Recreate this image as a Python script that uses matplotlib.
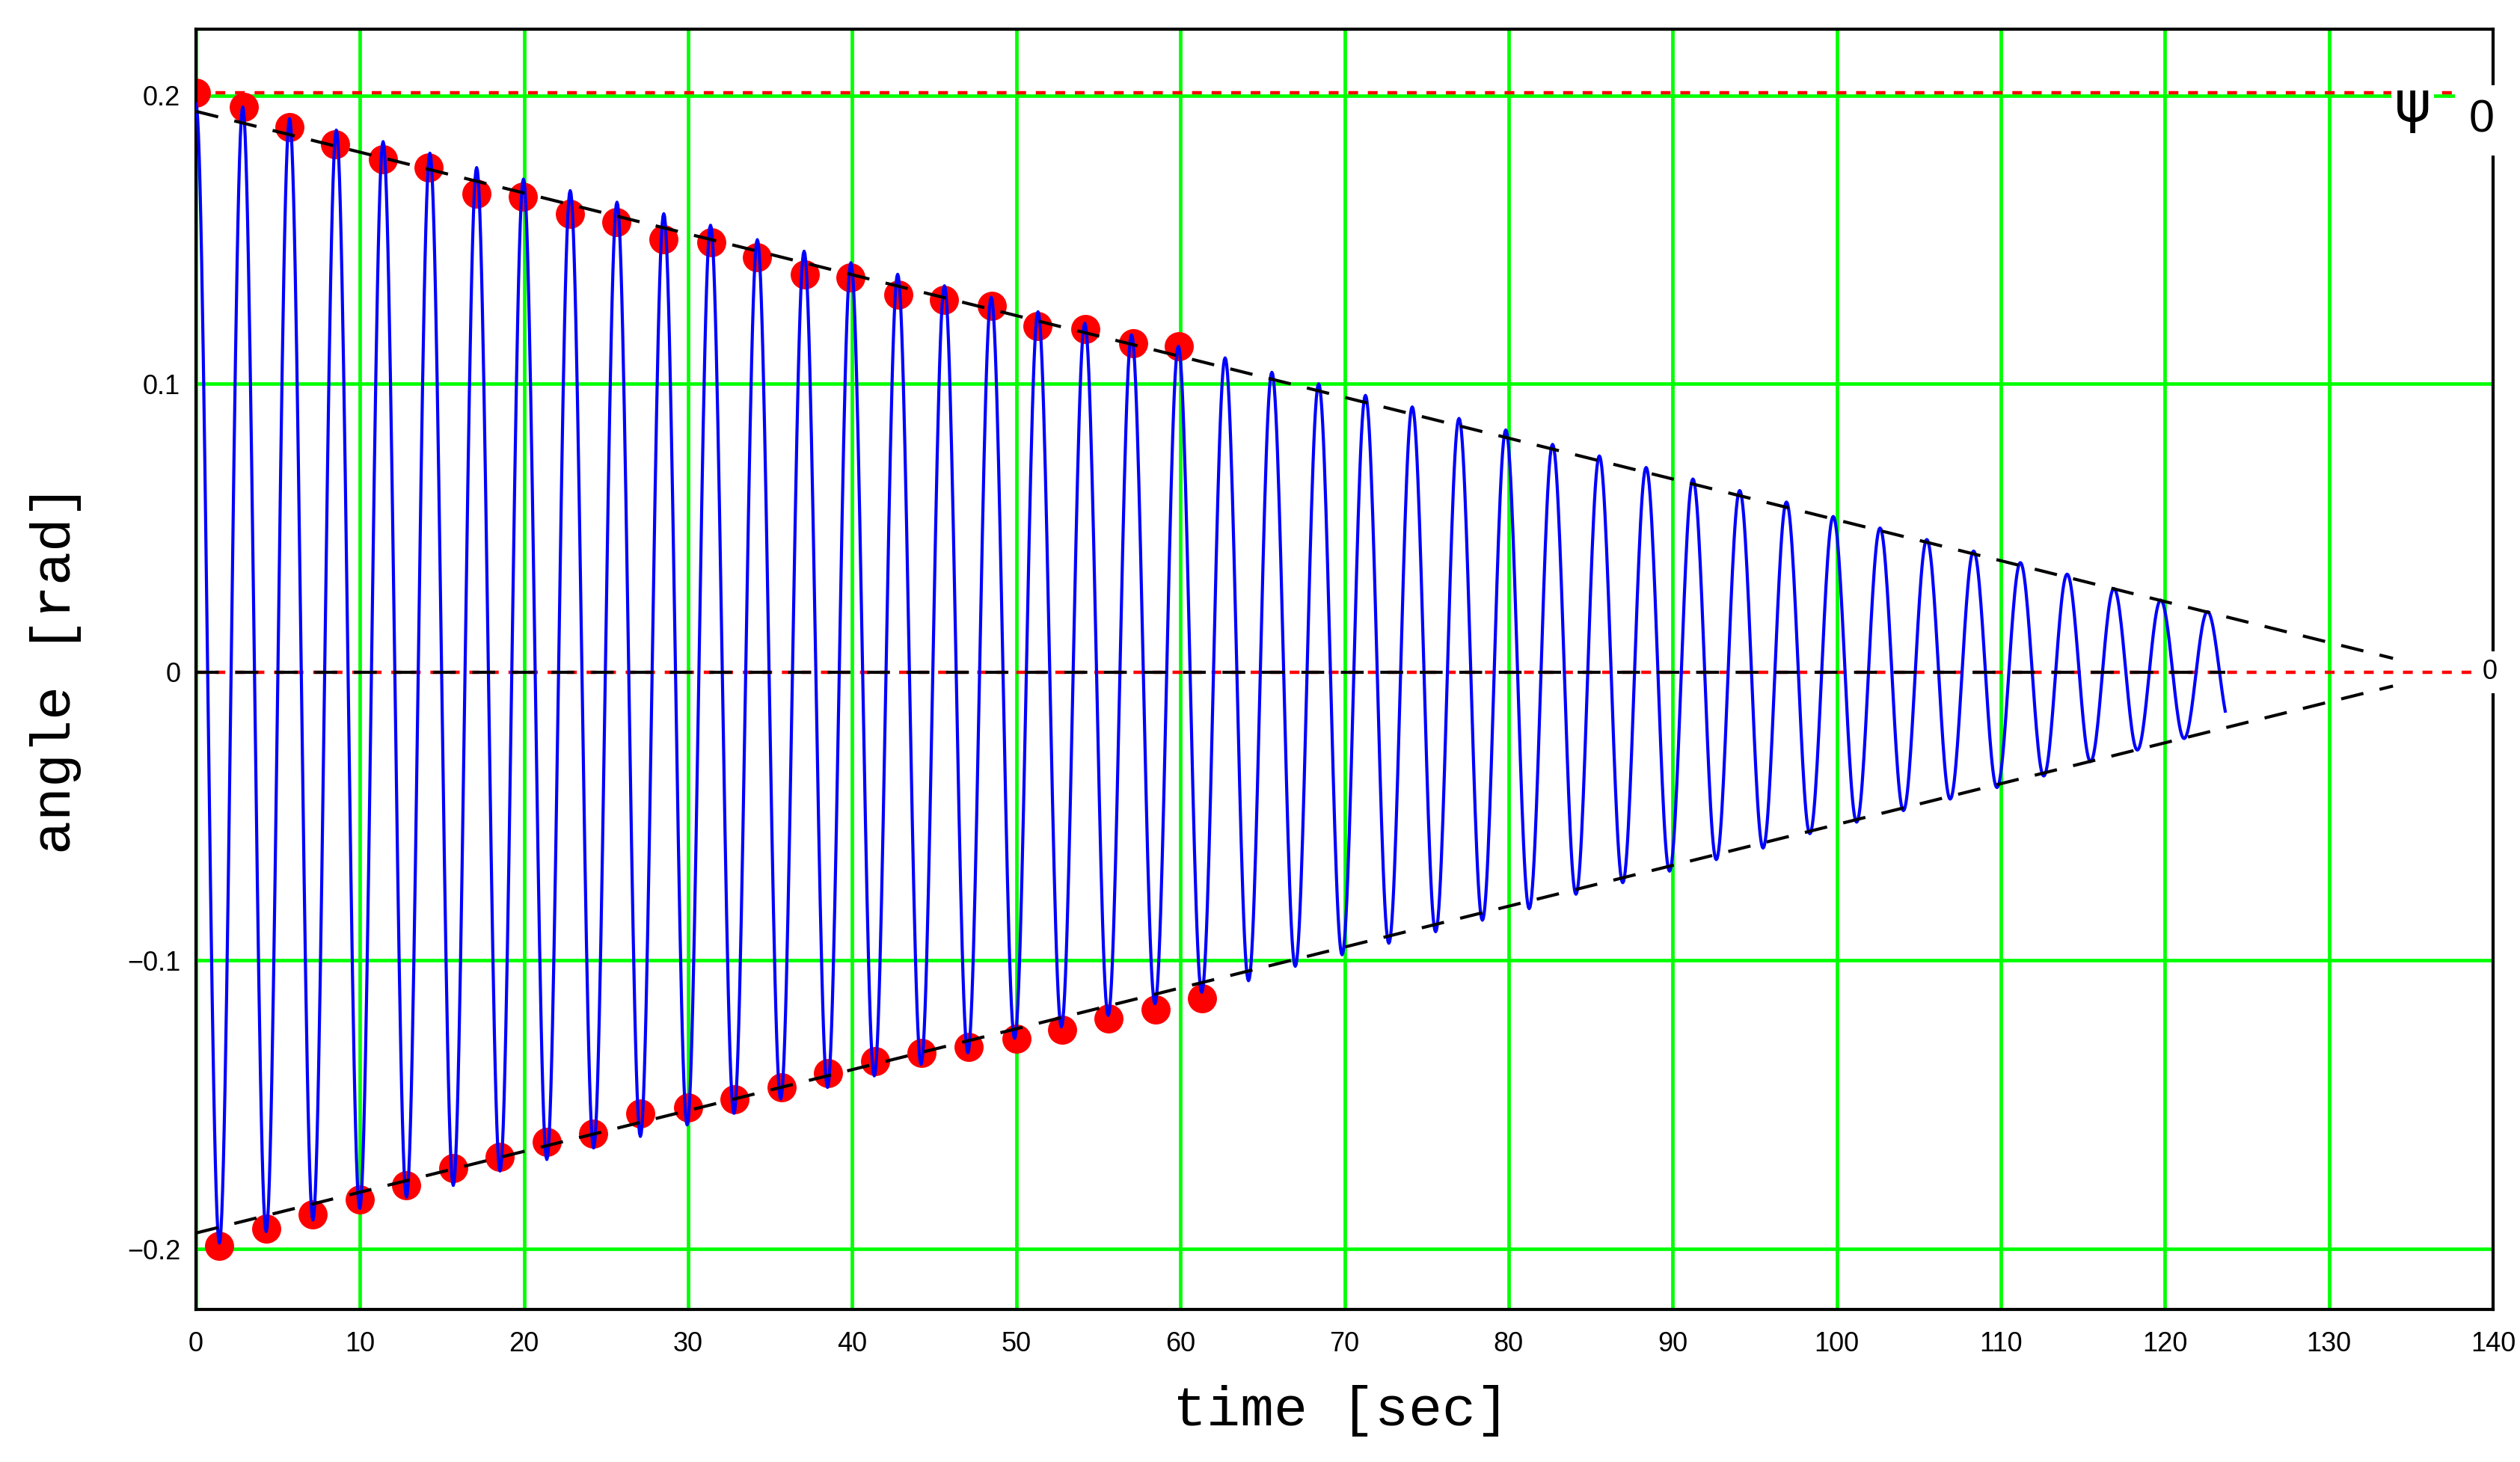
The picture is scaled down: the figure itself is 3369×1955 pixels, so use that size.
import numpy as np
import matplotlib.pyplot as plt

plt.rcParams['lines.scale_dashes'] = False

# measured peaks (red dots)
t_dots_top = [0.0, 2.9, 5.7, 8.5, 11.4, 14.2, 17.1, 19.9, 22.8, 25.6, 28.5,
              31.4, 34.2, 37.1, 39.9, 42.8, 45.6, 48.5, 51.3, 54.2, 57.1, 59.9]
dots_top = [0.201, 0.196, 0.189, 0.183, 0.178, 0.175, 0.166, 0.165, 0.159, 0.156, 0.150,
            0.149, 0.144, 0.138, 0.137, 0.131, 0.129, 0.127, 0.120, 0.119, 0.114, 0.113]
t_dots_bot = [1.4, 4.3, 7.1, 10.0, 12.8, 15.7, 18.5, 21.4, 24.2, 27.1, 30.0,
              32.8, 35.7, 38.5, 41.4, 44.2, 47.1, 50.0, 52.8, 55.6, 58.5, 61.3]
dots_bot = [-0.199, -0.193, -0.188, -0.183, -0.178, -0.172, -0.168, -0.163, -0.160, -0.153, -0.151,
            -0.148, -0.144, -0.139, -0.135, -0.132, -0.130, -0.127, -0.124, -0.120, -0.117, -0.113]

# simulated swing: extreme values of each half swing (blue)
period = 2.851
blue_peaks = [0.197, 0.196, 0.192, 0.188, 0.184, 0.180, 0.175, 0.171, 0.167, 0.163, 0.159,
              0.155, 0.150, 0.146, 0.142, 0.138, 0.134, 0.130, 0.125, 0.121, 0.117, 0.113,
              0.109, 0.104, 0.100, 0.096, 0.092, 0.088, 0.084, 0.079, 0.075, 0.071, 0.067,
              0.063, 0.059, 0.054, 0.050, 0.046, 0.042, 0.038, 0.034, 0.029, 0.025, 0.021]
blue_troughs = [-0.198, -0.194, -0.190, -0.186, -0.182, -0.178, -0.173, -0.169, -0.165, -0.161, -0.157,
                -0.153, -0.148, -0.144, -0.140, -0.136, -0.132, -0.127, -0.123, -0.119, -0.115, -0.111,
                -0.107, -0.102, -0.098, -0.094, -0.090, -0.086, -0.082, -0.077, -0.073, -0.069, -0.065,
                -0.061, -0.056, -0.052, -0.048, -0.044, -0.040, -0.036, -0.031, -0.027, -0.023, -0.019]
blue_t_end = 123.7

# envelope and zero trace (black dashed)
env_t = [0.0, 133.9]
env_top = [0.1945, 0.0048]
env_bot = [-0.1945, -0.0048]
zero_t = [0.0, 123.7]
zero_val = [0.0, 0.0]

psi0 = 0.201
x_ticks = list(range(0, 141, 10))
y_ticks = [-0.2, -0.1, 0.0, 0.1, 0.2]
y_tick_labels = ['\u22120.2', '\u22120.1', '0', '0.1', '0.2']

# build the blue trace as half cosine swings between the extremes
ext = np.empty(len(blue_peaks) + len(blue_troughs))
ext[0::2] = blue_peaks
ext[1::2] = blue_troughs
half = period / 2
tt, yy = [], []
s = np.linspace(0, 1, 30)
for k in range(len(ext) - 1):
    c = (ext[k] + ext[k + 1]) / 2
    r = (ext[k] - ext[k + 1]) / 2
    tt.append(k * half + s * half)
    yy.append(c + r * np.cos(np.pi * s))
tt = np.concatenate(tt)
yy = np.concatenate(yy)
keep = tt <= blue_t_end
tt, yy = tt[keep], yy[keep]

fig = plt.figure(figsize=(33.69, 19.55), dpi=100)
ax = fig.add_axes([0.07777, 0.10435, 0.91155, 0.87570])
ax.set_xlim(0, 140)
ax.set_ylim(-0.221, 0.223)
ax.set_xticks(x_ticks)
ax.set_yticks(y_ticks)
ax.set_yticklabels(y_tick_labels)
ax.tick_params(length=0, labelsize=26)
ax.tick_params(axis='x', pad=21)
ax.tick_params(axis='y', pad=15)
for lab in ax.get_xticklabels() + ax.get_yticklabels():
    lab.set_family('Liberation Sans')

ax.set_axisbelow(True)
ax.grid(True, color='#00ff00', lw=3.4)
for tk, v in zip(ax.yaxis.get_major_ticks(), y_ticks):
    if v == 0:
        tk.gridline.set_visible(False)
for sp in ax.spines.values():
    sp.set_linewidth(3.0)
    sp.set_color('black')

ax.plot(t_dots_top, dots_top, 'o', color='red', ms=27, mec='red', zorder=2)
ax.plot(t_dots_bot, dots_bot, 'o', color='red', ms=27, mec='red', zorder=2)

ax.axhline(psi0, color='red', lw=3.2, dashes=(9.4, 9.4), zorder=2.2)
ax.axhline(0, color='red', lw=3.2, dashes=(9.4, 9.4), zorder=2.2)

ax.plot(tt, yy, color='#0000ff', lw=3.0, zorder=3)

ax.plot(env_t, env_top, color='black', lw=3.0, dashes=(22, 16), zorder=4)
ax.plot(env_t, env_bot, color='black', lw=3.0, dashes=(22, 16), zorder=4)
ax.plot(zero_t, zero_val, color='black', lw=3.0, dashes=(22, 16), zorder=4)

# marker labels on the right
ax.text(135.1, 0.1965, '\u03c8', fontsize=54, ha='center', va='center', family='DejaVu Sans',
        bbox=dict(fc='white', ec='none', boxstyle='square,pad=0.05'), zorder=6)
ax.text(139.3, 0.1914, '0', fontsize=44, ha='center', va='center', family='Liberation Sans',
        bbox=dict(fc='white', ec='none', boxstyle='square,pad=0.3'), zorder=6)
ax.text(139.8, 0.0, '0', fontsize=26, ha='center', va='center', family='Liberation Sans',
        bbox=dict(fc='white', ec='none', boxstyle='square,pad=0.3'), zorder=6)

ax.set_xlabel('time [sec]', fontsize=54, family='Liberation Mono', va='center')
ax.xaxis.set_label_coords(0.4985, -0.0794)
ax.set_ylabel('angle [rad]', fontsize=54, family='Liberation Mono', va='center')
ax.yaxis.set_label_coords(-0.0609, 0.5)

fig.savefig('out.png', dpi=100)
